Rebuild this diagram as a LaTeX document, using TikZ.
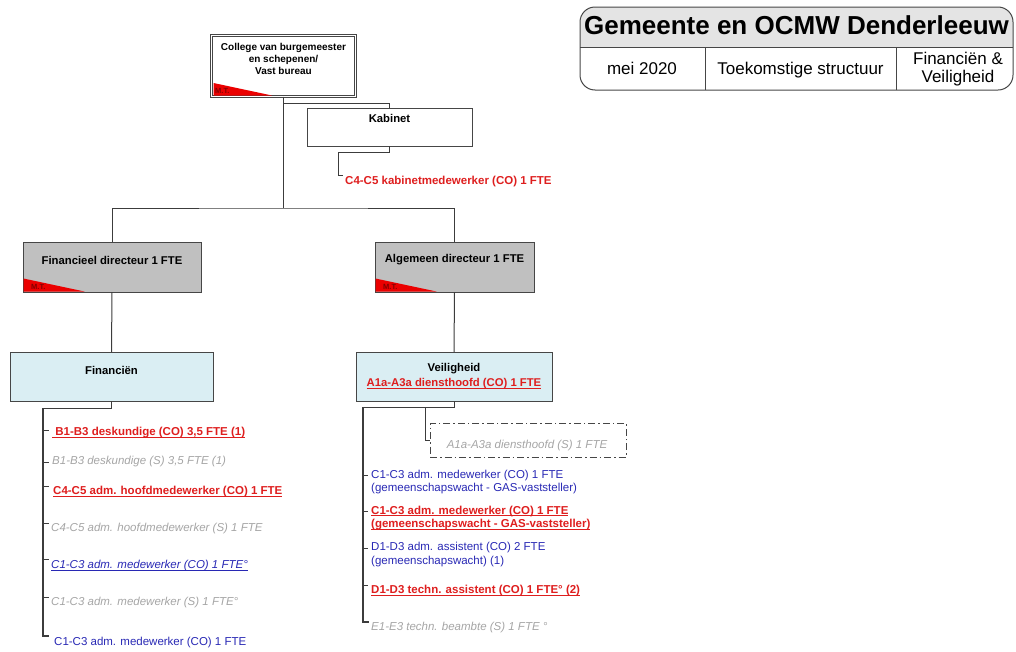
\documentclass[tikz,border=0pt]{standalone}
\usepackage{fontspec}
\setmainfont{Liberation Sans}
\definecolor{myred}{RGB}{222,30,30}
\definecolor{myblue}{RGB}{40,40,180}
\definecolor{mygray}{RGB}{165,165,165}
\definecolor{boxgray}{RGB}{192,192,192}
\definecolor{boxblue}{RGB}{218,238,243}
\definecolor{lineclr}{RGB}{60,60,60}
\definecolor{boxclr}{RGB}{70,70,70}
\definecolor{hdrgray}{RGB}{228,228,228}
\definecolor{mtred}{RGB}{235,0,0}
\definecolor{mtdark}{RGB}{130,0,0}
\newcommand\ulx[1]{\setbox0=\hbox{#1}\rlap{\rule[-2pt]{\wd0}{0.9pt}}\box0}
\begin{document}
\begin{tikzpicture}[x=1pt,y=-1pt,
  conn/.style={draw=lineclr, line width=1pt},
  spine/.style={draw=lineclr, line width=1.6pt},
  box/.style={draw=boxclr, line width=0.9pt, inner sep=0, outer sep=0},
  graybox/.style={box, fill=boxgray},
  bluebox/.style={box, fill=boxblue},
  whitebox/.style={box, fill=white},
  dashbox/.style={draw=boxclr, line width=1pt, inner sep=0, outer sep=0, dash pattern=on 7pt off 3pt on 1.5pt off 3pt},
  ttl/.style={inner sep=0, font=\fontsize{11.3}{13.5}\selectfont\bfseries, align=center},
  item/.style={inner sep=0, anchor=west, align=left, font=\fontsize{11.5}{13.5}\selectfont},
  redb/.style={item, text=myred, font=\fontsize{11.5}{13.5}\selectfont\bfseries},
  grayi/.style={item, text=mygray, font=\fontsize{11.5}{13.5}\selectfont\itshape},
  bluetxt/.style={item, text=myblue},
  bluei/.style={item, text=myblue, font=\fontsize{11.5}{13.5}\selectfont\itshape},
  mtlbl/.style={inner sep=0, anchor=west, text=mtdark, font=\fontsize{7.5}{7.5}\selectfont\bfseries},
  hline/.style={draw=boxclr, line width=1pt}
]
\useasboundingbox (0,0) rectangle (1016,651);
\clip (0,0) rectangle (1016,651);

% ---------- title block ----------
\begin{scope}
  \clip[rounded corners=15pt] (580,7) rectangle (1013,90);
  \fill[hdrgray] (580,7) rectangle (1013,47);
\end{scope}
\draw[hline, rounded corners=15pt] (580,7) rectangle (1013,90);
\draw[hline] (580,47) -- (1013,47);
\draw[hline] (705,47) -- (705,90);
\draw[hline] (896,47) -- (896,90);
\node[inner sep=0, anchor=base, font=\fontsize{26}{30}\selectfont\bfseries] (tTitle) at (796.5,34) {Gemeente en OCMW Denderleeuw};
\node[inner sep=0, anchor=base, font=\fontsize{17}{18}\selectfont] (tDate) at (642,74) {mei 2020};
\node[inner sep=0, anchor=base, font=\fontsize{17}{18}\selectfont] (tStruct) at (800.5,74) {Toekomstige structuur};
\node[inner sep=0, align=center, font=\fontsize{17}{18}\selectfont] (tDomain) at (958,69.5) {Financiën \&\\Veiligheid};

% ---------- college ----------
\node[whitebox, double=white, double distance=1.8pt, line width=0.7pt, minimum width=144pt, minimum height=61pt] (col) at (283.5,66) {};
\fill[mtred] (213.5,83) -- (213.5,95.5) -- (272,95.5) -- cycle;
\node[mtlbl] (colMT) at (215,90.5) {M.T.};
\node[inner sep=0, align=center, font=\fontsize{10}{12}\selectfont\bfseries] (colT) at (283.5,59) {College van burgemeester\\en schepenen/\\Vast bureau};

% ---------- kabinet ----------
\node[whitebox, minimum width=165pt, minimum height=38pt] (kab) at (389.5,127) {};
\node[ttl] (kabT) at (389.5,118) {Kabinet};
\node[redb] (kabM) at (345,182) {C4-C5 kabinetmedewerker (CO) 1 FTE};

% ---------- directors ----------
\node[graybox, minimum width=178pt, minimum height=50pt] (fin) at (112,267) {};
\fill[mtred] ([shift={(0.5,-0.5)}]fin.south west) -- ++(0,-13) -- ++(61,13) -- cycle;
\node[mtlbl] (finMT) at ([shift={(8,-5)}]fin.south west) {M.T.};
\node[ttl] (finT) at (112,260) {Financieel directeur 1 FTE};

\node[graybox, minimum width=159pt, minimum height=50pt] (alg) at (454.5,267) {};
\fill[mtred] ([shift={(0.5,-0.5)}]alg.south west) -- ++(0,-13) -- ++(61,13) -- cycle;
\node[mtlbl] (algMT) at ([shift={(8,-5)}]alg.south west) {M.T.};
\node[ttl] (algT) at (454.5,260) {Algemeen directeur 1 FTE};

% ---------- departments ----------
\node[bluebox, minimum width=203pt, minimum height=49pt] (finb) at (111.5,376.5) {};
\node[ttl] (finbT) at (111.5,370) {Financiën};

\node[bluebox, minimum width=196pt, minimum height=49pt] (veil) at (454,376.5) {};
\node[ttl] (veilT) at (454,369) {Veiligheid};
\node[ttl, text=myred] (veilS) at (454,383.5) {\ulx{A1a-A3a diensthoofd (CO) 1 FTE}};

\node[dashbox, minimum width=196pt, minimum height=34pt] (dsh) at (528,440) {};
\node[inner sep=0, text=mygray, font=\fontsize{11.5}{13.5}\selectfont\itshape] (dshT) at (527,446) {A1a-A3a diensthoofd (S) 1 FTE};

% ---------- top connectors ----------
\coordinate (bus) at (283.5,208);
\coordinate (kj) at (283.5,103);
\coordinate (kc) at (338,175);
\draw[conn] (col.south) -- (bus);
\draw[conn] (fin.north) |- (bus) -| (alg.north);
\draw[conn] (kj) -| (kab.north);
\draw[conn] (kab.south) -- ++(0,6) -| (kc) -- ++(5,0);
\draw[conn] (fin.south) -- (finb.north);
\draw[conn] (alg.south) -- (veil.north);

% ---------- Financien items ----------
\node[redb] (f1) at (52,433) {\ulx{\ B1-B3 deskundige (CO) 3,5 FTE (1)}};
\node[grayi] (f2) at (52,462) {B1-B3 deskundige (S) 3,5 FTE (1)};
\node[redb] (f3) at (53,492) {\ulx{C4-C5 adm. hoofdmedewerker (CO) 1 FTE}};
\node[grayi] (f4) at (51,529) {C4-C5 adm. hoofdmedewerker (S) 1 FTE};
\node[bluei] (f5) at (51,566) {\ulx{C1-C3 adm. medewerker (CO) 1 FTE°}};
\node[grayi] (f6) at (51,603) {C1-C3 adm. medewerker (S) 1 FTE°};
\node[bluetxt] (f7) at (54,643) {C1-C3 adm. medewerker (CO) 1 FTE};

\coordinate (fs) at (43,408);
\coordinate (fe) at (43,636);
\draw[conn] (finb.south) -- ++(0,7) -- (fs);
\draw[spine] (fs) -- (fe) -- ++(6,0);
\draw[conn] ([xshift=-9pt,yshift=3pt]f1.west) -- ++(6,0);
\draw[conn] ([xshift=-9pt]f2.west) -- ++(6,0);
\draw[conn] ([xshift=-10pt,yshift=6pt]f3.west) -- ++(6,0);
\draw[conn] ([xshift=-8pt,yshift=6pt]f4.west) -- ++(6,0);
\draw[conn] ([xshift=-8pt,yshift=7pt]f5.west) -- ++(6,0);
\draw[conn] ([xshift=-8pt,yshift=6pt]f6.west) -- ++(6,0);

% ---------- Veiligheid items ----------
\node[bluetxt] (r1) at (371,482) {C1-C3 adm. medewerker (CO) 1 FTE\\(gemeenschapswacht - GAS-vaststeller)};
\node[redb] (r2) at (371,518) {\ulx{C1-C3 adm. medewerker (CO) 1 FTE}\\\ulx{(gemeenschapswacht - GAS-vaststeller)}};
\node[bluetxt] (r3) at (371,554.5) {D1-D3 adm. assistent (CO) 2 FTE\\(gemeenschapswacht) (1)};
\node[redb] (r4) at (371,591) {\ulx{D1-D3 techn. assistent (CO) 1 FTE° (2)}};
\node[grayi] (r5) at (371,628) {E1-E3 techn. beambte (S) 1 FTE °};

\coordinate (rs) at (363,407);
\coordinate (re) at (363,622);
\coordinate (dj) at (425,407);
\draw[conn] (veil.south) -- ++(0,6) -- (rs);
\draw[conn] (dj) |- (dsh.west);
\draw[spine] (rs) -- (re) -- ++(6,0);
\draw[conn] ([xshift=-8pt,yshift=7pt]r1.west) -- ++(5,0);
\draw[conn] ([xshift=-8pt,yshift=7pt]r2.west) -- ++(5,0);
\draw[conn] ([xshift=-8pt,yshift=6.5pt]r3.west) -- ++(5,0);
\draw[conn] ([xshift=-8pt,yshift=6pt]r4.west) -- ++(5,0);
\end{tikzpicture}
\end{document}
